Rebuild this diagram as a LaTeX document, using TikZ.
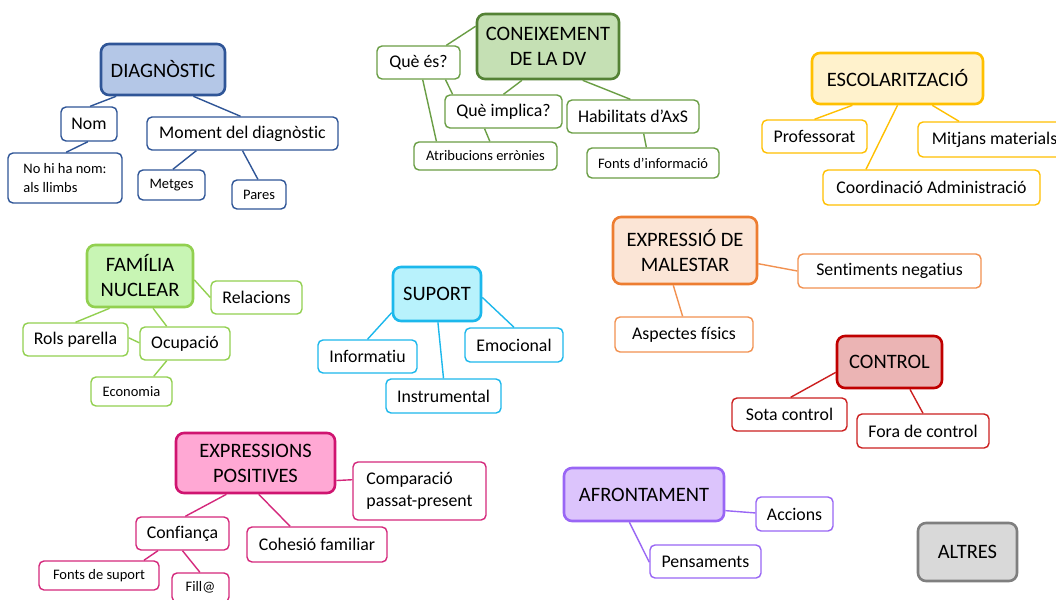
\documentclass[tikz,border=0pt]{standalone}
\usepackage{fontspec}
\setmainfont{Carlito}[Ligatures=NoCommon]
\usetikzlibrary{calc}

% points along the four edges of a node, at a fraction of the edge
\newcommand\ptS[2]{($(#1.south west)!#2!(#1.south east)$)}
\newcommand\ptN[2]{($(#1.north west)!#2!(#1.north east)$)}
\newcommand\ptW[2]{($(#1.north west)!#2!(#1.south west)$)}
\newcommand\ptE[2]{($(#1.north east)!#2!(#1.south east)$)}
% "t" followed by "i" without the font's ti ligature
\newcommand\tI{t\kern0pt i}

\definecolor{dgBorder}{HTML}{2F5597}\definecolor{dgFill}{HTML}{B4C7E7}
\definecolor{cnBorder}{HTML}{548235}\definecolor{cnFill}{HTML}{C5E0B4}\definecolor{cnLine}{HTML}{6A9E45}
\definecolor{esBorder}{HTML}{FFC000}\definecolor{esFill}{HTML}{FFF2CC}
\definecolor{fmBorder}{HTML}{92D050}\definecolor{fmFill}{HTML}{C8F5B4}
\definecolor{spBorder}{HTML}{1CB8EC}\definecolor{spFill}{HTML}{B8F2FC}
\definecolor{mlBorder}{HTML}{ED7D31}\definecolor{mlFill}{HTML}{FBE5D6}\definecolor{mlLine}{HTML}{F29150}
\definecolor{ctBorder}{HTML}{C00000}\definecolor{ctFill}{HTML}{EBB4B4}\definecolor{ctLine}{HTML}{CC1F1F}
\definecolor{psBorder}{HTML}{CF1470}\definecolor{psFill}{HTML}{FFA8D4}\definecolor{psLine}{HTML}{D4287C}
\definecolor{afBorder}{HTML}{9966F5}\definecolor{afFill}{HTML}{DCC4FC}
\definecolor{alBorder}{HTML}{7F7F7F}\definecolor{alFill}{HTML}{D9D9D9}

\tikzset{
  topic/.style={draw=#1Border, fill=#1Fill, line width=2.6pt, rounded corners=8pt,
    inner sep=0pt, align=center, font=\fontsize{20.5}{25}\selectfont, text=black},
  sub/.style={draw=#1, fill=white, line width=1.4pt, rounded corners=5pt,
    inner sep=0pt, align=center, font=\fontsize{17.8}{22}\selectfont, text=black},
  small/.style={sub=#1, font=\fontsize{14.5}{19}\selectfont},
  link/.style={draw=#1, line width=1.4pt},
  sz/.style 2 args={minimum width=#1, minimum height=#2}
}

\begin{document}
\begin{tikzpicture}[x=1pt,y=-1pt]
\path[use as bounding box] (0,0) rectangle (1056,599);
\clip (0,0) rectangle (1056,599);
\fill[white] (0,0) rectangle (1056,599);

% ---- DIAGNÒSTIC
\node[topic=dg, sz={124pt}{51pt}] (diag) at (163,69.5) {DIAGNÒSTIC};
\node[sub=dgBorder, sz={56pt}{34pt}] (nom) at (89,124) {Nom};
\node[sub=dgBorder, sz={191pt}{33pt}] (moment) at (242.5,133.5) {Moment del diagnòs\tI c};
\node[small=dgBorder, sz={114pt}{50pt}, align=left] (nohiha) at (65,178) {No hi ha nom:\\als llimbs};
\node[small=dgBorder, sz={67pt}{30pt}] (metges) at (171.5,185) {Metges};
\node[small=dgBorder, sz={54pt}{29pt}] (pares) at (259,194.5) {Pares};
\draw[link=dgBorder] \ptS{diag}{0.13} -- \ptN{nom}{0.52};
\draw[link=dgBorder] \ptS{diag}{0.74} -- \ptN{moment}{0.49};
\draw[link=dgBorder] \ptS{nom}{0.48} -- \ptN{nohiha}{0.51};
\draw[link=dgBorder] \ptS{moment}{0.26} -- \ptN{metges}{0.52};
\draw[link=dgBorder] \ptS{moment}{0.50} -- \ptN{pares}{0.48};

% ---- CONEIXEMENT DE LA DV
\node[topic=cn, sz={142pt}{65pt}] (coneix) at (548,46.5) {CONEIXEMENT\\DE LA DV};
\node[sub=cnLine, sz={83pt}{33pt}] (quees) at (418.5,62.5) {Què és?};
\node[sub=cnLine, sz={117pt}{33pt}] (implica) at (503.5,111.5) {Què implica?};
\node[sub=cnLine, sz={132pt}{33pt}] (habil) at (633,116.5) {Habilitats d’AxS};
\node[small=cnLine, sz={143pt}{28pt}] (atrib) at (485.5,156) {Atribucions errònies};
\node[small=cnLine, sz={132pt}{30pt}] (fontsinf) at (653,163) {Fonts d’informació};
\draw[link=cnLine] \ptW{coneix}{0.2} -- \ptN{quees}{0.83};
\draw[link=cnLine] \ptS{coneix}{0.32} -- \ptN{implica}{0.5};
\draw[link=cnLine] \ptS{coneix}{0.74} -- \ptN{habil}{0.48};
\draw[link=cnLine] \ptS{quees}{0.55} -- \ptN{atrib}{0.16};
\draw[link=cnLine] \ptS{quees}{0.82} -- \ptN{implica}{0.07};
\draw[link=cnLine] \ptS{implica}{0.34} -- \ptN{atrib}{0.53};
\draw[link=cnLine] \ptS{habil}{0.58} -- \ptN{fontsinf}{0.45};

% ---- ESCOLARITZACIÓ
\node[topic=es, sz={171pt}{51pt}] (esc) at (897.5,78.5) {ESCOLARITZACIÓ};
\node[sub=esBorder, sz={105pt}{33pt}] (prof) at (814.5,136.5) {Professorat};
\node[sub=esBorder, sz={153pt}{35pt}] (mitjans) at (994.5,139.5) {Mitjans materials};
\node[sub=esBorder, sz={217pt}{35pt}] (coord) at (931.5,187.5) {Coordinació Administració};
\draw[link=esBorder] \ptS{esc}{0.24} -- \ptN{prof}{0.5};
\draw[link=esBorder] \ptS{esc}{0.5} -- \ptN{coord}{0.2};
\draw[link=esBorder] \ptS{esc}{0.70} -- \ptN{mitjans}{0.27};

% ---- FAMÍLIA NUCLEAR
\node[topic=fm, sz={106pt}{62pt}] (fam) at (140,276) {FAMÍLIA\\NUCLEAR};
\node[sub=fmBorder, sz={91pt}{33pt}] (relac) at (256.5,297.5) {Relacions};
\node[sub=fmBorder, sz={105pt}{33pt}] (rols) at (75.5,339.5) {Rols parella};
\node[sub=fmBorder, sz={90pt}{33pt}] (ocup) at (185,343.5) {Ocupació};
\node[small=fmBorder, sz={81pt}{29pt}] (econ) at (131.5,391.5) {Economia};
\draw[link=fmBorder] \ptE{fam}{0.56} -- \ptW{relac}{0.5};
\draw[link=fmBorder] \ptS{fam}{0.22} -- \ptN{rols}{0.5};
\draw[link=fmBorder] \ptS{fam}{0.62} -- \ptN{ocup}{0.3};
\draw[link=fmBorder] \ptE{rols}{0.45} -- \ptW{ocup}{0.48};
\draw[link=fmBorder] \ptS{ocup}{0.3} -- \ptN{econ}{0.77};

% ---- SUPORT
\node[topic=sp, sz={88pt}{54pt}] (sup) at (437,294) {SUPORT};
\node[sub=spBorder, sz={99pt}{33pt}] (info) at (367.5,356.5) {Informa\tI u};
\node[sub=spBorder, sz={98pt}{34pt}] (emoc) at (514,345) {Emocional};
\node[sub=spBorder, sz={115pt}{34pt}] (instr) at (443.5,396) {Instrumental};
\draw[link=spBorder] \ptW{sup}{0.83} -- \ptN{info}{0.5};
\draw[link=spBorder] \ptS{sup}{0.51} -- \ptN{instr}{0.5};
\draw[link=spBorder] \ptE{sup}{0.56} -- \ptN{emoc}{0.5};

% ---- EXPRESSIÓ DE MALESTAR
\node[topic=ml, sz={144pt}{67pt}] (malestar) at (685,250.5) {EXPRESSIÓ DE\\MALESTAR};
\node[sub=mlLine, sz={183pt}{34pt}] (sent) at (889.5,271) {Sen\tI ments nega\tI us};
\node[sub=mlLine, sz={138pt}{35pt}] (aspect) at (684,334.5) {Aspectes físics};
\draw[link=mlLine] \ptE{malestar}{0.69} -- \ptW{sent}{0.5};
\draw[link=mlLine] \ptS{malestar}{0.42} -- \ptN{aspect}{0.49};

% ---- CONTROL
\node[topic=ct, sz={105pt}{52pt}] (control) at (889.5,362) {CONTROL};
\node[sub=ctLine, sz={115pt}{33pt}] (sota) at (789.5,414.5) {Sota control};
\node[sub=ctLine, sz={132pt}{34pt}] (fora) at (923,431) {Fora de control};
\draw[link=ctLine] \ptW{control}{0.69} -- \ptN{sota}{0.51};
\draw[link=ctLine] \ptS{control}{0.69} -- \ptN{fora}{0.5};

% ---- EXPRESSIONS POSITIVES
\node[topic=ps, sz={159pt}{60pt}] (pos) at (255.5,463) {EXPRESSIONS\\POSITIVES};
\node[sub=psLine, sz={133pt}{58pt}, align=left] (compar) at (419.5,491) {Comparació\\passat-present};
\node[sub=psLine, sz={93pt}{33pt}] (confi) at (182.5,533.5) {Confiança};
\node[sub=psLine, sz={140pt}{35pt}] (cohes) at (317,544.5) {Cohesió familiar};
\node[small=psLine, sz={120pt}{29pt}] (fontsup) at (99,575.5) {Fonts de suport};
\node[small=psLine, sz={57pt}{29pt}] (fill) at (200.5,587.5) {Fill@};
\draw[link=psLine] \ptE{pos}{0.78} -- \ptW{compar}{0.31};
\draw[link=psLine] \ptS{pos}{0.32} -- \ptN{confi}{0.53};
\draw[link=psLine] \ptS{pos}{0.52} -- \ptN{cohes}{0.31};
\draw[link=psLine] \ptS{confi}{0.24} -- \ptN{fontsup}{0.87};
\draw[link=psLine] \ptS{confi}{0.5} -- \ptN{fill}{0.49};

% ---- AFRONTAMENT
\node[topic=af, sz={160pt}{53pt}] (afr) at (644,494.5) {AFRONTAMENT};
\node[sub=afBorder, sz={77pt}{34pt}] (accions) at (794.5,514) {Accions};
\node[sub=afBorder, sz={111pt}{33pt}] (pens) at (705.5,561.5) {Pensaments};
\draw[link=afBorder] \ptE{afr}{0.79} -- \ptW{accions}{0.47};
\draw[link=afBorder] \ptS{afr}{0.41} -- \ptW{pens}{0.52};

% ---- ALTRES
\node[topic=al, sz={99pt}{58pt}] (altres) at (967.5,552) {ALTRES};
\end{tikzpicture}
\end{document}
